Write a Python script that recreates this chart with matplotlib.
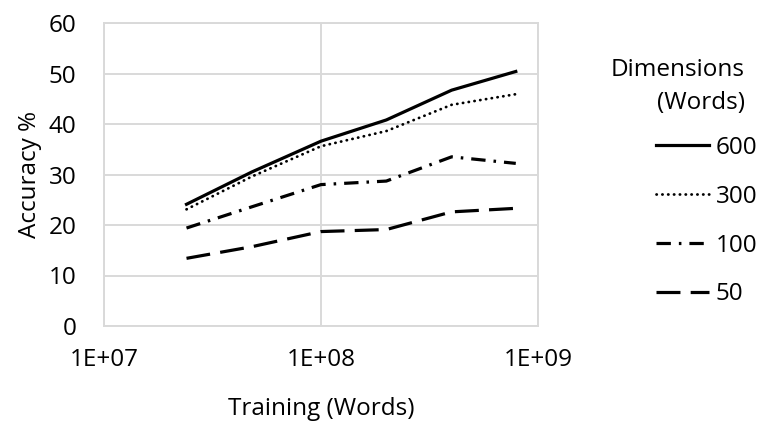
import matplotlib
matplotlib.use("Agg")
import matplotlib.pyplot as plt
from matplotlib.ticker import FixedLocator, FixedFormatter

plt.rcParams['font.family'] = ['Open Sans', 'DejaVu Sans']

training_words = [2.4e7, 4.8e7, 1.0e8, 2.0e8, 4.0e8, 7.9e8]
acc_600 = [24.1, 30.5, 36.6, 40.8, 46.7, 50.4]
acc_300 = [23.1, 29.6, 35.6, 38.6, 43.8, 45.9]
acc_100 = [19.4, 23.6, 28.0, 28.7, 33.5, 32.2]
acc_50 = [13.4, 15.7, 18.7, 19.1, 22.6, 23.3]
series_labels = ['600', '300', '100', '50']
x_ticks = [1e7, 1e8, 1e9]
x_tick_labels = ['1E+07', '1E+08', '1E+09']
y_ticks = [0, 10, 20, 30, 40, 50, 60]

FS = 17.5
W, H = 763, 421
fig = plt.figure(figsize=(W / 100, H / 100), dpi=100)
ax = fig.add_axes([104 / W, 95 / H, 434 / W, 303 / H])

ax.set_xscale('log')
ax.set_xlim(1e7, 1e9)
ax.set_ylim(0, 60)

lw = 2.3
styles = [
    dict(linestyle='-'),
    dict(linestyle=(0, (0.1, 2.0)), dash_capstyle='round', linewidth=2.0),
    dict(linestyle=(0, (4.5, 2.5, 0.8, 2.5))),
    dict(linestyle=(0, (7.5, 3.2))),
]
series = [acc_600, acc_300, acc_100, acc_50]
handles = []
for vals, lab, st in zip(series, series_labels, styles):
    kw = dict(color='black', linewidth=lw)
    kw.update(st)
    h, = ax.plot(training_words, vals, label=lab, **kw)
    handles.append(h)

ax.xaxis.set_major_locator(FixedLocator(x_ticks))
ax.xaxis.set_major_formatter(FixedFormatter(x_tick_labels))
ax.xaxis.set_minor_locator(FixedLocator([]))
ax.set_yticks(y_ticks)

ax.grid(True, which='major', color='#d9d9d9', linewidth=1.4)
ax.set_axisbelow(True)
for s in ax.spines.values():
    s.set_color('#d9d9d9')
    s.set_linewidth(1.4)
ax.tick_params(axis='both', length=0, labelsize=FS, colors='black')
ax.tick_params(axis='y', pad=20)
ax.tick_params(axis='x', pad=16)

ax.set_xlabel('Training (Words)', fontsize=FS)
ax.set_ylabel('Accuracy %', fontsize=FS)
ax.xaxis.set_label_coords(0.5, (326 - 409) / 303)
ax.xaxis.label.set_verticalalignment('center')
ax.yaxis.set_label_coords((30 - 104) / 434, 0.5)
ax.yaxis.label.set_verticalalignment('center')

fig.text(745 / W, 1 - 70 / H, 'Dimensions', fontsize=FS, ha='right', va='center')
fig.text(745 / W, 1 - 103 / H, '(Words)', fontsize=FS, ha='right', va='center')

leg = fig.legend(handles=handles, labels=series_labels, loc='upper left',
                 bbox_to_anchor=(656 / W, 1 - 136 / H), bbox_transform=fig.transFigure,
                 frameon=False, fontsize=FS, handlelength=2.2, handletextpad=0.25,
                 labelspacing=1.02, borderpad=0, borderaxespad=0)

fig.savefig('out.png', dpi=100)
